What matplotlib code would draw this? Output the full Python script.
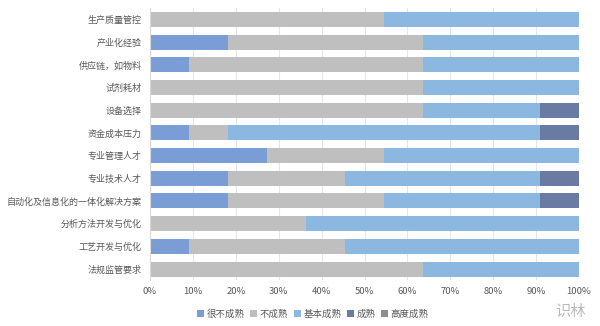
import numpy as np
import matplotlib.pyplot as plt

plt.rcParams['font.family'] = ['Noto Sans CJK SC', 'DejaVu Sans']

categories = ['生产质量管控', '产业化经验', '供应链，如物料', '试剂耗材', '设备选择',
              '资金成本压力', '专业管理人才', '专业技术人才', '自动化及信息化的一体化解决方案',
              '分析方法开发与优化', '工艺开发与优化', '法规监管要求']
series = ['很不成熟', '不成熟', '基本成熟', '成熟', '高度成熟']

# percentages
very_immature = [0, 18.2, 9.1, 0, 0, 9.1, 27.3, 18.2, 18.2, 0, 9.1, 0]
immature      = [54.5, 45.5, 54.5, 63.6, 63.6, 9.1, 27.3, 27.3, 36.4, 36.4, 36.4, 63.6]
basic         = [45.5, 36.4, 36.4, 36.4, 27.3, 72.7, 45.5, 45.5, 36.4, 63.6, 54.5, 36.4]
mature        = [0, 0, 0, 0, 9.1, 9.1, 0, 9.1, 9.1, 0, 0, 0]
highly        = [0] * 12

colors = ['#7b9dd6', '#bfbfbf', '#8cb7e1', '#6a7ba3', '#8c8c8c']

fig = plt.figure(figsize=(6, 3.26), dpi=100)
ax = fig.add_axes([0.25, 0.14, 0.715, 0.835])

y = np.arange(len(categories))
left = np.zeros(len(categories))
for name, vals, c in zip(series, [very_immature, immature, basic, mature, highly], colors):
    ax.barh(y, vals, left=left, height=0.66, color=c, label=name, zorder=2)
    left += np.array(vals)

ax.set_ylim(len(categories) - 0.5, -0.5)
ax.set_xlim(0, 100)
ax.set_yticks(y)
ax.set_yticklabels(categories, fontsize=6.5, color='#595959')
ax.set_xticks(np.arange(0, 101, 10))
ax.set_xticklabels([f'{v}%' for v in range(0, 101, 10)], fontsize=6.8, color='#595959')
ax.tick_params(axis='y', length=0, pad=6)
ax.tick_params(axis='x', length=0, pad=5)
ax.xaxis.grid(True, color='#e6e6e6', lw=0.8, zorder=0)
for s in ['top', 'right', 'bottom']:
    ax.spines[s].set_visible(False)
ax.spines['left'].set_color('#d9d9d9')

ax.legend(loc='upper center', bbox_to_anchor=(0.38, -0.075), ncol=5, frameon=False,
          fontsize=6.8, handlelength=0.7, handleheight=0.7, handletextpad=0.3,
          columnspacing=0.6, labelcolor='#595959')

# watermark
fig.text(0.925, 0.045, '识林', fontsize=11, color='#bbbbbb', ha='left', va='center')

fig.savefig('out.png', dpi=100)
